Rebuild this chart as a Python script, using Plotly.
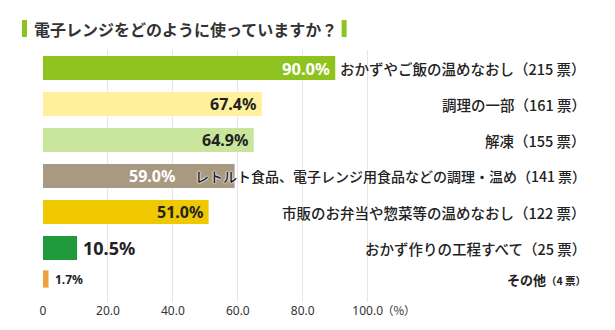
import plotly.graph_objects as go

# ---- data ----
categories = [
    "おかずやご飯の温めなおし",
    "調理の一部",
    "解凍",
    "レトルト食品、電子レンジ用食品などの調理・温め",
    "市販のお弁当や惣菜等の温めなおし",
    "おかず作りの工程すべて",
    "その他",
]
percents = [90.0, 67.4, 64.9, 59.0, 51.0, 10.5, 1.7]
votes = [215, 161, 155, 141, 122, 25, 4]
tick_values = [0, 20, 40, 60, 80, 100]
tick_labels = ["0", "20.0", "40.0", "60.0", "80.0", "100.0"]
title_text = "電子レンジをどのように使っていますか？"

# ---- style ----
bar_colors = ["#8dc21f", "#fff09c", "#c9e59b", "#a89a82", "#f0c800", "#1f9a3c", "#f0a040"]
bar_widths = [0.67, 0.67, 0.67, 0.67, 0.67, 0.67, 0.48]
bar_offsets = [-0.335, -0.335, -0.335, -0.335, -0.335, -0.335, -0.38]
val_colors = ["#ffffff", "#222222", "#222222", "#ffffff", "#222222", "#222222", "#222222"]
val_sizes = [16.5, 16, 16, 16, 16, 18, 12]
val_inside = [True, True, True, True, True, False, False]
val_xshift = [-3, -4, -4, -58, -4, 4, 4]
lab_sizes = [14.5, 14.5, 14.5, 14, 14.5, 14.5, 13]
lab_weights = [500, 500, 500, 500, 500, 500, 700]
row_yshift = [0, 0, 0, 0, 0, 0, 5]
GREEN = "#8dc21f"
TXT = "#222222"
CJK = "Noto Sans CJK JP"
LAT = "Noto Sans, Noto Sans CJK JP"

fig = go.Figure()
fig.add_trace(go.Bar(
    y=categories, x=percents, orientation="h",
    marker=dict(color=bar_colors, line=dict(width=0)),
    width=bar_widths, offset=bar_offsets,
    hoverinfo="skip",
))

annotations = []
for i, (c, p, v) in enumerate(zip(categories, percents, votes)):
    annotations.append(dict(
        x=p, y=c, xref="x", yref="y",
        text=f"<b>{p:.1f}%</b>",
        xanchor="right" if val_inside[i] else "left",
        xshift=val_xshift[i], yshift=row_yshift[i],
        showarrow=False,
        font=dict(family=LAT, size=val_sizes[i], color=val_colors[i]),
    ))
    vote_txt = f"（{v} 票）" if i < 6 else f"<span style='font-size:10.5px'>（{v} 票）</span>"
    annotations.append(dict(
        x=167.8, y=c, xref="x", yref="y",
        text=c + vote_txt,
        xanchor="right", showarrow=False,
        yshift=row_yshift[i],
        font=dict(family=CJK, size=lab_sizes[i], color=TXT, weight=lab_weights[i],
                  shadow="0 0 2px #fff, 0 0 2px #fff, 0 0 1px #fff" if i == 3 else "none"),
    ))

annotations.append(dict(
    x=-0.0199, y=1.083, xref="paper", yref="paper",
    text=title_text, xanchor="left", yanchor="middle",
    showarrow=False, font=dict(family=CJK, size=16, color="#333333", weight=700),
))
annotations.append(dict(
    x=100, y=0, xref="x", yref="paper", yanchor="top", xanchor="left",
    text="（%）", showarrow=False, xshift=12, yshift=2,
    font=dict(family=CJK, size=11.5, color="#333333"),
))

shapes = [
    dict(type="rect", xref="paper", yref="paper", x0=-0.038, x1=-0.029,
         y0=1.0516, y1=1.119, fillcolor=GREEN, line=dict(width=0)),
    dict(type="rect", xref="paper", yref="paper", x0=0.541, x1=0.550,
         y0=1.0516, y1=1.119, fillcolor=GREEN, line=dict(width=0)),
]

fig.update_layout(
    width=615, height=330,
    margin=dict(l=43, r=19.5, t=50, b=28),
    paper_bgcolor="white", plot_bgcolor="white",
    showlegend=False,
    annotations=annotations, shapes=shapes,
    xaxis=dict(range=[0, 170], tickvals=tick_values, ticktext=tick_labels,
               showgrid=True, gridcolor="#e6e6e6", gridwidth=1,
               zeroline=False, showline=False, ticks="",
               tickfont=dict(family=LAT, size=12, color="#333333")),
    yaxis=dict(autorange="reversed", showticklabels=False, showgrid=False,
               zeroline=False, showline=False, ticks=""),
)

fig.write_html("out.html")
